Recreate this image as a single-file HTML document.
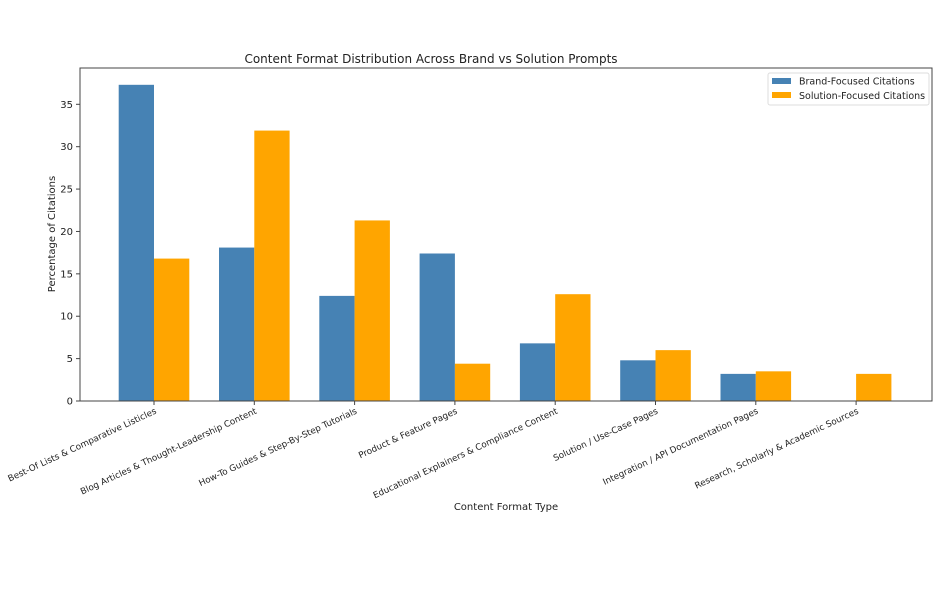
<!DOCTYPE html>
<html><head><style>html,body{margin:0;padding:0;background:#fff}</style></head><body>
<svg width="940" height="588" xmlns="http://www.w3.org/2000/svg" font-family="'DejaVu Sans', 'Liberation Sans', sans-serif" font-size="10">
<rect width="940" height="588" fill="#fff"/>
<text x="431" y="63" font-size="12" text-anchor="middle" fill="#222">Content Format Distribution Across Brand vs Solution Prompts</text>
<g id="bars"></g>
<rect x="80" y="68" width="852" height="333" fill="none" stroke="#444" stroke-width="1"/>
<g id="yt" font-size="10" fill="#222"></g>
<g id="xt" font-size="8.8" fill="#222"></g>
<text transform="translate(55,234) rotate(-90)" text-anchor="middle" font-size="10" fill="#222">Percentage of Citations</text>
<text x="506" y="510" text-anchor="middle" font-size="10" fill="#222">Content Format Type</text>
<rect x="768" y="73" width="161" height="32" rx="2" fill="#fff" stroke="#ddd"/>
<rect x="772" y="78" width="19" height="6" fill="#4682b4"/>
<rect x="772" y="92" width="19" height="6" fill="#ffa500"/>
<text x="799" y="84.5" font-size="9.5" fill="#222">Brand-Focused Citations</text>
<text x="799" y="99" font-size="9.5" fill="#222">Solution-Focused Citations</text>
<script>
var B=[37.3,18.1,12.4,17.4,6.8,4.8,3.2,0],S=[16.8,31.9,21.3,4.4,12.6,6.0,3.5,3.2];
var L=["Best-Of Lists & Comparative Listicles","Blog Articles & Thought-Leadership Content","How-To Guides & Step-By-Step Tutorials","Product & Feature Pages","Educational Explainers & Compliance Content","Solution / Use-Case Pages","Integration / API Documentation Pages","Research, Scholarly & Academic Sources"];
var ns="http://www.w3.org/2000/svg",k=8.477,y0=401,w=35.3;
function el(t,a,p,txt){var e=document.createElementNS(ns,t);for(var q in a)e.setAttribute(q,a[q]);if(txt)e.textContent=txt;document.getElementById(p).appendChild(e);}
for(var i=0;i<8;i++){var c=154+100.3*i;
el("rect",{x:c-w,y:y0-B[i]*k,width:w,height:B[i]*k,fill:"#4682b4"},"bars");
el("rect",{x:c,y:y0-S[i]*k,width:w,height:S[i]*k,fill:"#ffa500"},"bars");
el("line",{x1:c,x2:c,y1:401,y2:405,stroke:"#444"},"xt");
el("text",{x:0,y:0,"text-anchor":"end",transform:"translate("+(c+3)+",413) rotate(-25)"},"xt",L[i]);}
for(var v=0;v<=35;v+=5){var y=y0-v*k;el("line",{x1:76,x2:80,y1:y,y2:y,stroke:"#444"},"yt");el("text",{x:73,y:y+3.5,"text-anchor":"end"},"yt",String(v));}
</script>
</svg>
</body></html>
